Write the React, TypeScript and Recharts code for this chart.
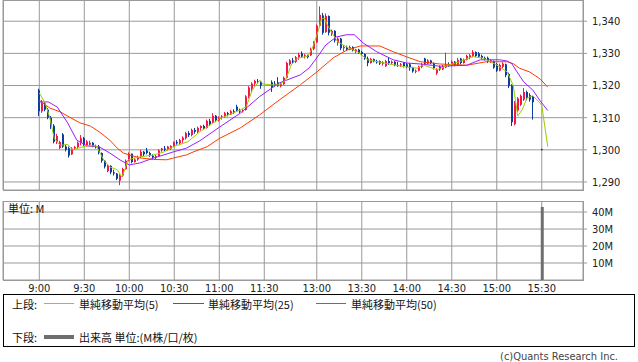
import { ComposedChart, Line, Scatter, Bar, XAxis, YAxis, CartesianGrid } from 'recharts'

// 2-minute candles: [time, open, high, low, close]
const morningCandles: [string, number, number, number, number][] = [
  ['9:00', 1318.5, 1319, 1310.5, 1312], ['9:02', 1312, 1315.5, 1311.5, 1314.5],
  ['9:04', 1314.5, 1314.8, 1312, 1312.5], ['9:06', 1312.5, 1313, 1309.5, 1310],
  ['9:08', 1310, 1310.5, 1306.5, 1307.5], ['9:10', 1307.5, 1308, 1302, 1302.5],
  ['9:12', 1302.5, 1305, 1301.8, 1304.3], ['9:14', 1300.6, 1302.8, 1300.2, 1302.4],
  ['9:16', 1304.8, 1305.2, 1300.6, 1301], ['9:18', 1301, 1301.5, 1299.5, 1300],
  ['9:20', 1300.5, 1301, 1297.6, 1298.2], ['9:22', 1298.6, 1300.8, 1298.4, 1300.4],
  ['9:24', 1300.4, 1301.2, 1300, 1300.8], ['9:26', 1300.8, 1302.6, 1300.5, 1302.2],
  ['9:28', 1302.2, 1304.6, 1301.4, 1303.6], ['9:30', 1303.6, 1304, 1301.2, 1301.6],
  ['9:32', 1301.4, 1303, 1301, 1302.6], ['9:34', 1301.6, 1302.8, 1301.2, 1302.2],
  ['9:36', 1302.2, 1302.4, 1300.8, 1301.2], ['9:38', 1301.2, 1301.6, 1300.4, 1300.8],
  ['9:40', 1301, 1301.5, 1298.6, 1299], ['9:42', 1299, 1299.2, 1296, 1296.6],
  ['9:44', 1296.6, 1296.8, 1294.2, 1294.8], ['9:46', 1293.4, 1295.4, 1293, 1295],
  ['9:48', 1295, 1295.2, 1292.4, 1293], ['9:50', 1293, 1293.8, 1292, 1292.6],
  ['9:52', 1292.6, 1292.8, 1290.6, 1291], ['9:54', 1290.4, 1292.4, 1289, 1292],
  ['9:56', 1292, 1294.4, 1291.6, 1294], ['9:58', 1294, 1297, 1293.8, 1296.6],
  ['10:00', 1296.6, 1299.2, 1296.4, 1298.8], ['10:02', 1298.8, 1298.8, 1295.8, 1296.2],
  ['10:04', 1296.2, 1297.4, 1296, 1297], ['10:06', 1297, 1298.2, 1296.6, 1297.8],
  ['10:08', 1297.8, 1300, 1297.4, 1299.4], ['10:10', 1299.4, 1299.6, 1298, 1298.6],
  ['10:12', 1299.8, 1300.6, 1298.6, 1299], ['10:14', 1299, 1299.4, 1297.8, 1298.2],
  ['10:16', 1298.2, 1298.6, 1297, 1297.6], ['10:18', 1297.6, 1298.4, 1297, 1298],
  ['10:20', 1298, 1300.2, 1298, 1299.8], ['10:22', 1299.8, 1300.6, 1299.4, 1300.4],
  ['10:24', 1300.4, 1301.2, 1299.6, 1300], ['10:26', 1300, 1301.2, 1299.8, 1301],
  ['10:28', 1300.4, 1301.4, 1300, 1301.2], ['10:30', 1301, 1302.6, 1300.8, 1302.4],
  ['10:32', 1302.4, 1303, 1301.6, 1302], ['10:34', 1302, 1303.4, 1301.6, 1303],
  ['10:36', 1303, 1304.2, 1302.2, 1303.8], ['10:38', 1303.6, 1305.6, 1303.2, 1305.2],
  ['10:40', 1305.2, 1305.8, 1304, 1304.6], ['10:42', 1304.6, 1306.6, 1304.2, 1306.2],
  ['10:44', 1306.2, 1306.8, 1305, 1305.6], ['10:46', 1305.6, 1307.2, 1305.2, 1306.8],
  ['10:48', 1306.8, 1307.6, 1306, 1307.4], ['10:50', 1307.4, 1307.8, 1306.2, 1306.6],
  ['10:52', 1306.8, 1309.4, 1306.6, 1309], ['10:54', 1309, 1309.6, 1307.4, 1308],
  ['10:56', 1308.4, 1311.4, 1308.2, 1310.6], ['10:58', 1310.6, 1310.8, 1308.6, 1309.2],
  ['11:00', 1309.2, 1310.4, 1308.8, 1310], ['11:02', 1310, 1310.8, 1309.4, 1310.4],
  ['11:04', 1310.4, 1311.8, 1310, 1311.4], ['11:06', 1311.4, 1311.8, 1310.4, 1311],
  ['11:08', 1311, 1312.4, 1310.8, 1312], ['11:10', 1312, 1312.6, 1311.2, 1311.6],
  ['11:12', 1313.4, 1314, 1311.8, 1312.2], ['11:14', 1312.2, 1312.8, 1311.4, 1312],
  ['11:16', 1312, 1312.6, 1311.6, 1312.4], ['11:18', 1312.4, 1317, 1312.2, 1316.6],
  ['11:20', 1316.6, 1319.8, 1316, 1319.4], ['11:22', 1319, 1321, 1318, 1320.6],
  ['11:24', 1320.6, 1321.8, 1319.8, 1321.4], ['11:26', 1321.4, 1322, 1320.6, 1321.2],
  ['11:28', 1321.2, 1321.4, 1319, 1320],
]

const afternoonCandles: [string, number, number, number, number][] = [
  ['12:30', 1321, 1321.6, 1318, 1319.4], ['12:32', 1320.6, 1321.4, 1319.6, 1320],
  ['12:34', 1321, 1322.6, 1319.6, 1319.8], ['12:36', 1319.8, 1320.8, 1319.4, 1320.4],
  ['12:38', 1320.4, 1322.8, 1320.2, 1322.4], ['12:40', 1322.4, 1327.4, 1322.2, 1327],
  ['12:42', 1326.6, 1328.2, 1326.2, 1327.8], ['12:44', 1327.8, 1328.6, 1326.8, 1327.4],
  ['12:46', 1327.4, 1329.2, 1327, 1328.8], ['12:48', 1328.8, 1330.2, 1328, 1329.6],
  ['12:50', 1330, 1330.6, 1328.6, 1329], ['12:52', 1329, 1329.8, 1328.4, 1329.4],
  ['12:54', 1329.4, 1329.6, 1328.4, 1328.8], ['12:56', 1329.4, 1331.8, 1329.2, 1331.4],
  ['12:58', 1331.4, 1333.8, 1331, 1333.4], ['13:00', 1333.4, 1339, 1333.2, 1338.6],
  ['13:02', 1338.6, 1344.6, 1338.2, 1342], ['13:04', 1341.8, 1342.6, 1335.8, 1336.4],
  ['13:06', 1336.6, 1342.4, 1336.4, 1341.6], ['13:08', 1341.6, 1341.8, 1335.6, 1336.4],
  ['13:10', 1336, 1337.4, 1335.4, 1337], ['13:12', 1337, 1337.2, 1333.4, 1334],
  ['13:14', 1333.2, 1335, 1332.4, 1334.6], ['13:16', 1334.6, 1334.8, 1331, 1331.6],
  ['13:18', 1331.6, 1332.6, 1330.6, 1332], ['13:20', 1332, 1332.4, 1330.8, 1331.2],
  ['13:22', 1331.2, 1332.4, 1331, 1332], ['13:24', 1332, 1332.2, 1330.6, 1331],
  ['13:26', 1330.4, 1331.4, 1330, 1331.2], ['13:28', 1331.2, 1331.4, 1329.8, 1330.2],
  ['13:30', 1330.4, 1330.8, 1329.4, 1329.8], ['13:32', 1329.8, 1330, 1328, 1328.4],
  ['13:34', 1328.4, 1329, 1326, 1327], ['13:36', 1327, 1328.6, 1326.8, 1328.2],
  ['13:38', 1328.2, 1328.4, 1327.2, 1327.6], ['13:40', 1327.6, 1328, 1326.8, 1327.2],
  ['13:42', 1327.6, 1327.8, 1326.4, 1326.8], ['13:44', 1326.8, 1327.6, 1326.2, 1327.2],
  ['13:46', 1326, 1328, 1325.8, 1327.6], ['13:48', 1327.6, 1328.6, 1326.4, 1327],
  ['13:50', 1327, 1327.8, 1326.6, 1327.4], ['13:52', 1327.4, 1327.6, 1326, 1326.4],
  ['13:54', 1326.4, 1327.4, 1325.8, 1326.2], ['13:56', 1326.2, 1327, 1325.8, 1326.6],
  ['13:58', 1327, 1327.2, 1325.6, 1326], ['14:00', 1326.6, 1327, 1325.4, 1325.8],
  ['14:02', 1326.6, 1327, 1324.6, 1325.6], ['14:04', 1325.6, 1325.8, 1324, 1324.4],
  ['14:06', 1324.4, 1325, 1323.8, 1324.6], ['14:08', 1324.6, 1326.2, 1324.4, 1325.8],
  ['14:10', 1325.8, 1327, 1325.4, 1326.6], ['14:12', 1328.4, 1328.6, 1326.4, 1326.8],
  ['14:14', 1326.8, 1328.2, 1326.6, 1327.8], ['14:16', 1327.8, 1328, 1326.6, 1327],
  ['14:18', 1327, 1327.2, 1325, 1325.4], ['14:20', 1323.8, 1325.4, 1323.3, 1325],
  ['14:22', 1325.8, 1326.2, 1324.6, 1325], ['14:24', 1325, 1326.4, 1324.8, 1326],
  ['14:26', 1325.6, 1330.2, 1325.4, 1326.4], ['14:28', 1326.4, 1327.2, 1325.8, 1326.2],
  ['14:30', 1326.2, 1327.8, 1326, 1327.4], ['14:32', 1327.4, 1327.6, 1326, 1326.4],
  ['14:34', 1326.4, 1328.6, 1326.2, 1328], ['14:36', 1328.4, 1328.6, 1326.6, 1327],
  ['14:38', 1327, 1328.4, 1326.8, 1328], ['14:40', 1328, 1329.6, 1327.8, 1329.2],
  ['14:42', 1328.6, 1329.8, 1328.2, 1329.4], ['14:44', 1329.2, 1331, 1328.8, 1330.4],
  ['14:46', 1330.4, 1330.6, 1328.8, 1329.2], ['14:48', 1330, 1330.4, 1328.6, 1329],
  ['14:50', 1329.2, 1329.6, 1328.2, 1328.6], ['14:52', 1328.6, 1329, 1327.8, 1328.2],
  ['14:54', 1328.6, 1329, 1327, 1327.6], ['14:56', 1327.6, 1328.2, 1327, 1327.8],
  ['14:58', 1327.6, 1327.8, 1325.2, 1325.6], ['15:00', 1326.6, 1327, 1324.2, 1324.6],
  ['15:02', 1324.6, 1326.8, 1324.4, 1326.4], ['15:04', 1325.8, 1327.2, 1325.4, 1326.8],
  ['15:06', 1326.6, 1326.8, 1322.6, 1323.2], ['15:08', 1323.6, 1324, 1319.2, 1319.8],
  ['15:10', 1320, 1320.4, 1307.4, 1308.6], ['15:12', 1308, 1315.2, 1307.6, 1314.6],
  ['15:14', 1312.2, 1316.4, 1311.8, 1316], ['15:16', 1314, 1317.2, 1313.6, 1316.8],
  ['15:18', 1315.6, 1319.2, 1315.2, 1318], ['15:20', 1318, 1318.4, 1315.4, 1316.2],
  ['15:22', 1317, 1317.6, 1315, 1315.6], ['15:24', 1316.6, 1316.8, 1309.4, 1314.8],
  ['15:30', 1300.2, 1300.3, 1299.9, 1300],
]

// simple moving averages: [time, value]
const ma5: [string, number][] = [
  ['9:00', 1317.7], ['9:04', 1314.5], ['9:07', 1310], ['9:10', 1303.5], ['9:14', 1301.4],
  ['9:19', 1301.7], ['9:22', 1300], ['9:26', 1300.5], ['9:32', 1301.3], ['9:38', 1301.2],
  ['9:43', 1296.8], ['9:47', 1294.7], ['9:52', 1293.8], ['9:55', 1291.6], ['9:57', 1293.8],
  ['9:59', 1296.8], ['10:03', 1297.4], ['10:07', 1297.8], ['10:16', 1298.4], ['10:23', 1299.3],
  ['10:29', 1300.9], ['10:39', 1302.5], ['10:47', 1305.6], ['10:56', 1308.4], ['11:00', 1309.6],
  ['11:14', 1312.4], ['11:18', 1313.4], ['11:22', 1318.6], ['11:27', 1321.7], ['11:29', 1320.5],
  ['12:30', 1320.2], ['12:35', 1320.2], ['12:39', 1321.5], ['12:43', 1326.4], ['12:47', 1328.5],
  ['12:54', 1329.1], ['12:57', 1331.5], ['13:01', 1337], ['13:03', 1340.6], ['13:05', 1341],
  ['13:07', 1338.9], ['13:10', 1336.4], ['13:14', 1333.6], ['13:21', 1331.7], ['13:27', 1330.5],
  ['13:34', 1328], ['13:45', 1327], ['13:54', 1326.2], ['14:02', 1325.6], ['14:07', 1325.4],
  ['14:11', 1326.4], ['14:20', 1324.9], ['14:27', 1326.2], ['14:35', 1327.4], ['14:44', 1329],
  ['14:51', 1328.5], ['15:00', 1326.4], ['15:07', 1324.2], ['15:11', 1320], ['15:14', 1310.5],
  ['15:17', 1312.5], ['15:20', 1316], ['15:24', 1316.8], ['15:28', 1315], ['15:30', 1313.8],
  ['15:34', 1301],
]

const ma25: [string, number][] = [
  ['9:00', 1314.9], ['9:06', 1314.9], ['9:12', 1313.3], ['9:19', 1308.3], ['9:25', 1303],
  ['9:32', 1301.2], ['9:40', 1300.9], ['9:47', 1299], ['9:54', 1296.8], ['10:00', 1295.3],
  ['10:07', 1295.9], ['10:16', 1297.4], ['10:29', 1299.3], ['10:38', 1300.5], ['10:47', 1302.8],
  ['11:00', 1307], ['11:14', 1311.4], ['11:27', 1316.6], ['12:35', 1320.8], ['12:49', 1323.3],
  ['12:55', 1325.5], ['13:00', 1328.6], ['13:06', 1332.6], ['13:13', 1335.1], ['13:20', 1335.8],
  ['13:25', 1335.8], ['13:31', 1333.2], ['13:40', 1330.5], ['13:51', 1328], ['14:00', 1327],
  ['14:09', 1326.7], ['14:22', 1326], ['14:40', 1326.3], ['14:49', 1328], ['15:02', 1328],
  ['15:07', 1327.6], ['15:10', 1326.8], ['15:14', 1323.9], ['15:18', 1321.1], ['15:24', 1318.6],
  ['15:29', 1315.2], ['15:34', 1312.2],
]

const ma50: [string, number][] = [
  ['9:00', 1315.4], ['9:07', 1313], ['9:14', 1311.8], ['9:20', 1310.2], ['9:27', 1308.4],
  ['9:34', 1307.4], ['9:40', 1305.6], ['9:47', 1303], ['9:52', 1300.5], ['9:56', 1299],
  ['10:00', 1298.4], ['10:07', 1297.5], ['10:16', 1297], ['10:25', 1296.9], ['10:29', 1297.4],
  ['10:38', 1298.4], ['10:43', 1299.4], ['10:52', 1301], ['11:00', 1303.5], ['11:14', 1306.8],
  ['11:27', 1310.9], ['12:35', 1315.5], ['12:49', 1320.2], ['13:00', 1324.2], ['13:11', 1328.6],
  ['13:20', 1331], ['13:29', 1332.3], ['13:42', 1332.3], ['13:51', 1330.5], ['14:00', 1328.9],
  ['14:09', 1327.4], ['14:22', 1326.7], ['14:40', 1326.3], ['14:53', 1327.4], ['15:07', 1327.4],
  ['15:11', 1326.8], ['15:15', 1325.4], ['15:22', 1324.2], ['15:29', 1322], ['15:34', 1319.5],
]

// volume in millions; only the closing auction is visible
const volumeTimes = ['15:30']
const volumeValues = [43]

const timeTicks = ['9:00', '9:30', '10:00', '10:30', '11:00', '11:30', '13:00', '13:30', '14:00', '14:30', '15:00', '15:30']
const priceTicks = [1290, 1300, 1310, 1320, 1330, 1340]
const volumeTicks = [10, 20, 30, 40]

const PRICE_MIN = 1287.5
const PRICE_MAX = 1346.6
const TOP_PLOT_H = 190
const X_DOMAIN: [number, number] = [-24.2, 362.5]

const UP = '#f5174a'
const DOWN = '#0c3d9c'
const GRID = '#999'
const FONT = "'DejaVu Sans Condensed', 'DejaVu Sans', sans-serif"
const JP_FONT = "'Noto Sans CJK JP', sans-serif"

// minutes from 9:00, with the lunch break squeezed to a 5 minute gap
function toPos(t: string) {
  const [h, m] = t.split(':').map(Number)
  const min = h * 60 + m
  return min < 720 ? min - 540 : min - 750 + 155
}

const candles = [...morningCandles, ...afternoonCandles].map(([time, open, high, low, close]) => ({
  pos: toPos(time), open, high, low, close,
}))
const toLine = (rows: [string, number][]) => rows.map(([time, v]) => ({ pos: toPos(time), v }))
const volume = volumeTimes.map((t, i) => ({ pos: toPos(t), v: volumeValues[i] }))
const tickPos = timeTicks.map(toPos)
const tickLabel = (p: number) => timeTicks[tickPos.indexOf(p)] ?? ''

function Candle(props: any) {
  const { cx, cy, payload } = props
  if (cx == null || cy == null) return null
  const ppu = TOP_PLOT_H / (PRICE_MAX - PRICE_MIN)
  const { open, high, low, close } = payload
  const color = close >= open ? UP : DOWN
  const x = Math.round(cx)
  const bodyTop = cy + (high - Math.max(open, close)) * ppu
  const bodyH = Math.max(1, Math.abs(close - open) * ppu)
  return (
    <g>
      <rect x={x - 1} y={cy} width={1} height={Math.max(1, (high - low) * ppu)} fill={color} />
      <rect x={x - 1} y={bodyTop} width={2} height={bodyH} fill={color} />
    </g>
  )
}

const axisTick = { fontSize: 11, fill: '#222', fontFamily: FONT }
const topMargin = { top: 0, right: 0, bottom: 1, left: 3 }

export default function App() {
  return (
    <div style={{ position: 'absolute', left: 0, top: 0, width: 638, height: 362, background: '#fff', fontFamily: JP_FONT }}>
      {/* price panel: grid, axis and candles */}
      <div style={{ position: 'absolute', left: 0, top: 0 }}>
        <ComposedChart width={638} height={191} margin={topMargin}>
          <CartesianGrid stroke={GRID} />
          <XAxis type="number" dataKey="pos" domain={X_DOMAIN} ticks={tickPos} allowDataOverflow hide />
          <YAxis
            orientation="right"
            width={55}
            domain={[PRICE_MIN, PRICE_MAX]}
            ticks={priceTicks}
            interval={0}
            allowDataOverflow
            axisLine={false}
            tickLine={{ stroke: GRID }}
            tickSize={4}
            tickMargin={5}
            tick={axisTick}
            tickFormatter={(v: number) => v.toLocaleString('en-US')}
          />
          <Scatter data={candles} dataKey="high" shape={(p: any) => <Candle {...p} />} isAnimationActive={false} />
        </ComposedChart>
      </div>
      {/* moving averages drawn on top of the candles */}
      <div style={{ position: 'absolute', left: 0, top: 0 }}>
        <ComposedChart width={638} height={191} margin={{ ...topMargin, right: 55 }}>
          <XAxis type="number" dataKey="pos" domain={X_DOMAIN} allowDataOverflow hide />
          <YAxis domain={[PRICE_MIN, PRICE_MAX]} allowDataOverflow hide />
          <Line data={toLine(ma50)} dataKey="v" type="linear" stroke="#ff3a00" strokeWidth={1} dot={false} isAnimationActive={false} />
          <Line data={toLine(ma25)} dataKey="v" type="linear" stroke="#9a1cff" strokeWidth={1} dot={false} isAnimationActive={false} />
          <Line data={toLine(ma5)} dataKey="v" type="linear" stroke="#9acd00" strokeWidth={1} dot={false} isAnimationActive={false} />
        </ComposedChart>
      </div>
      <div style={{ position: 'absolute', left: 3, top: 0, width: 581, height: 191, border: `1px solid ${GRID}`, boxSizing: 'border-box' }} />

      {/* volume panel */}
      <div style={{ position: 'absolute', left: 0, top: 201 }}>
        <ComposedChart width={638} height={100} data={volume} margin={{ top: 0, right: 0, bottom: 0, left: 3 }}>
          <CartesianGrid stroke={GRID} />
          <XAxis
            type="number"
            dataKey="pos"
            domain={X_DOMAIN}
            ticks={tickPos}
            interval={0}
            allowDataOverflow
            height={21}
            axisLine={false}
            tickLine={false}
            tickSize={2}
            tickMargin={2}
            tick={axisTick}
            tickFormatter={tickLabel}
          />
          <YAxis
            orientation="right"
            width={55}
            domain={[0, 46.5]}
            ticks={volumeTicks}
            interval={0}
            allowDataOverflow
            axisLine={false}
            tickLine={{ stroke: GRID }}
            tickSize={4}
            tickMargin={5}
            tick={axisTick}
            tickFormatter={(v: number) => `${v}M`}
          />
          <Bar dataKey="v" barSize={3} fill="#6e6e6e" isAnimationActive={false} />
        </ComposedChart>
      </div>
      <div style={{ position: 'absolute', left: 3, top: 201, width: 581, height: 80, border: `1px solid ${GRID}`, boxSizing: 'border-box' }} />
      <div style={{ position: 'absolute', left: 8, top: 202, fontSize: 11, lineHeight: '13px', color: '#111' }}>単位: M</div>

      {/* legend */}
      <div style={{ position: 'absolute', left: 3, top: 294, width: 632, height: 53, border: '1px solid #000', boxSizing: 'border-box', fontSize: 11, lineHeight: '13px', color: '#111' }}>
        <span style={{ position: 'absolute', left: 8, top: 3 }}>上段:</span>
        <span style={{ position: 'absolute', left: 40, top: 8, width: 30, height: 1, background: '#9acd00' }} />
        <span style={{ position: 'absolute', left: 75, top: 3 }}>単純移動平均(5)</span>
        <span style={{ position: 'absolute', left: 169, top: 8, width: 31, height: 1, background: '#9a1cff' }} />
        <span style={{ position: 'absolute', left: 204, top: 3 }}>単純移動平均(25)</span>
        <span style={{ position: 'absolute', left: 312, top: 8, width: 30, height: 1, background: '#ff3a00' }} />
        <span style={{ position: 'absolute', left: 347, top: 3 }}>単純移動平均(50)</span>
        <span style={{ position: 'absolute', left: 8, top: 36 }}>下段:</span>
        <span style={{ position: 'absolute', left: 40, top: 40, width: 30, height: 4, background: '#6e6e6e' }} />
        <span style={{ position: 'absolute', left: 75, top: 36 }}>出来高 単位:(M株/口/枚)</span>
      </div>
      <div style={{ position: 'absolute', right: 20, top: 350, fontSize: 11, lineHeight: '13px', color: '#444', fontFamily: FONT }}>
        (c)Quants Research Inc.
      </div>
    </div>
  )
}
